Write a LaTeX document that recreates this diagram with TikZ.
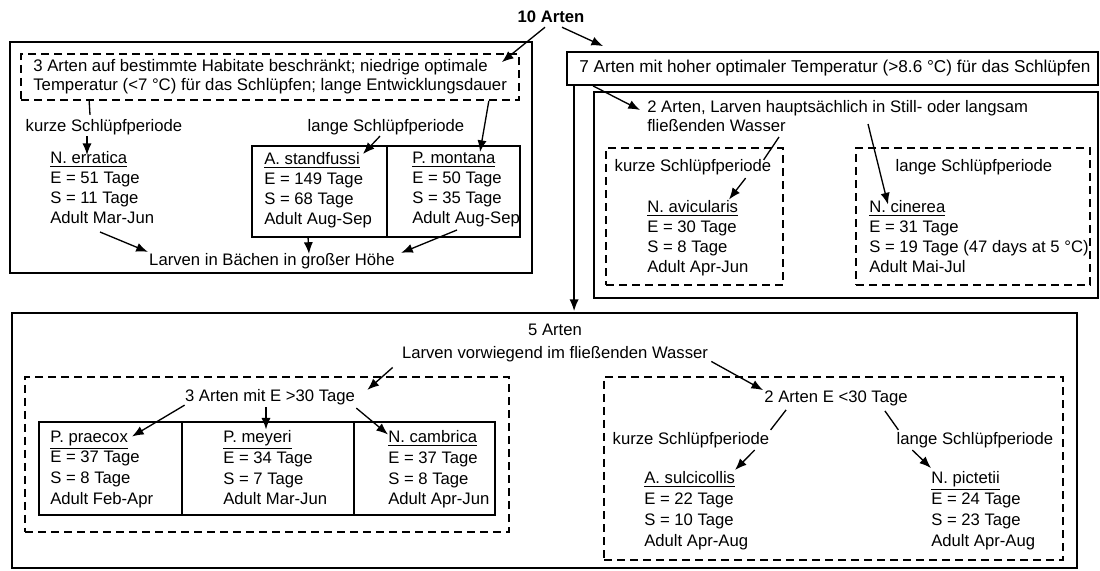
\documentclass[tikz,border=0pt]{standalone}
\usepackage{fontspec}
\setmainfont{Liberation Sans}
\usetikzlibrary{%
  positioning
 ,arrows.meta
 ,calc
 ,fit
}
\tikzstyle{box}=[draw,line width=1.1pt,inner sep=0pt]
\tikzstyle{dbox}=[draw,line width=1pt,dash pattern=on 4.8pt off 3pt,inner sep=0pt]
\tikzstyle{frame}=[line width=1.1pt]
\tikzstyle{lbl}=[inner sep=0pt]
\tikzstyle{spec}=[inner sep=0pt,align=left,anchor=north west]
\tikzstyle{arr}=[-{Latex[length=7pt,width=5.5pt]},line width=0.8pt]
\tikzstyle{ln}=[line width=0.8pt]

\begin{document}
\begin{tikzpicture}[x=0.6pt,y=-0.6pt,font=\fontsize{10}{12}\selectfont]
  \useasboundingbox (0,0) rectangle (1100,570);
  \node[lbl,font=\bfseries] (ten) at (551,17) {10 Arten};
% upper left: cold species
  \node[box,fit={(10,42) (532,273)}] (ulBox) {};
  \node[dbox,fit={(21,54) (519,100)}] (habBox) {};
  \node[spec,font=\fontsize{10.05}{11.2}\selectfont] (hab) at (33,59.5)
    {3 Arten auf bestimmte Habitate beschränkt; niedrige optimale\\
     Temperatur (<7 °C) für das Schlüpfen; lange Entwicklungsdauer};
  \node[lbl] (kurzeA) at (104,127) {kurze Schlüpfperiode};
  \node[lbl] (langeA) at (386,127) {lange Schlüpfperiode};
  \node[box,fit={(252,146) (520,237)}] (twoBox) {};
  \draw[frame] (387,146) -- (387,237);
  \node[spec] (erratica) at (50,151)
    {\underline{N. erratica}\\E = 51 Tage\\S = 11 Tage\\Adult Mar-Jun};
  \node[spec] (standfussi) at (264,152)
    {\underline{A. standfussi}\\E = 149 Tage\\S = 68 Tage\\Adult Aug-Sep};
  \node[spec] (montana) at (412,152)
    {\underline{P. montana}\\E = 50 Tage\\S = 35 Tage\\Adult Aug-Sep};
  \node[lbl] (baechen) at (272,261) {Larven in Bächen in großer Höhe};
% upper right: warm species
  \node[box,fit={(567,52) (1098,85)}] (sevenBox) {};
  \node[lbl,anchor=west,font=\fontsize{10.3}{12}\selectfont] (seven) at (579,68)
    {7 Arten mit hoher optimaler Temperatur (>8.6 °C) für das Schlüpfen};
  \node[box,fit={(594,92) (1098,298)}] (stillBox) {};
  \node[spec,font=\fontsize{10}{11.4}\selectfont] (zwei) at (647,100)
    {2 Arten, Larven hauptsächlich in Still- oder langsam\\fließenden Wasser};
  \node[dbox,fit={(606,148) (783,285)}] (kurzeBBox) {};
  \node[dbox,fit={(856,148) (1090,285)}] (langeBBox) {};
  \node[lbl] (kurzeB) at (693,167) {kurze Schlüpfperiode};
  \node[lbl] (langeB) at (974,167) {lange Schlüpfperiode};
  \node[spec] (avicularis) at (647,200.5)
    {\underline{N. avicularis}\\E = 30 Tage\\S = 8 Tage\\Adult Apr-Jun};
  \node[spec] (cinerea) at (869,200.5)
    {\underline{N. cinerea}\\E = 31 Tage\\S = 19 Tage (47 days at 5 °C)\\Adult Mai-Jul};
% bottom: running water
  \node[box,fit={(12,313) (1077,568)}] (botBox) {};
  \node[lbl,align=center,font=\fontsize{10}{14}\selectfont] (fuenf) at (555,343)
    {5 Arten\\Larven vorwiegend im fließenden Wasser};
  \node[dbox,fit={(25,377) (509,532)}] (langBox) {};
  \node[lbl] (dreiE) at (270,397) {3 Arten mit E >30 Tage};
  \node[box,fit={(39,422) (495,515)}] (cellBox) {};
  \draw[frame] (182,422) -- (182,515);
  \draw[frame] (354,422) -- (354,515);
  \node[spec,font=\fontsize{10}{12.4}\selectfont] (praecox) at (50,430.5)
    {\underline{P. praecox}\\E = 37 Tage\\S = 8 Tage\\Adult Feb-Apr};
  \node[spec,font=\fontsize{10}{12.4}\selectfont] (meyeri) at (223,430.5)
    {\underline{P. meyeri}\\E = 34 Tage\\S = 7 Tage\\Adult Mar-Jun};
  \node[spec,font=\fontsize{10}{12.4}\selectfont] (cambrica) at (388,430.5)
    {\underline{N. cambrica}\\E = 37 Tage\\S = 8 Tage\\Adult Apr-Jun};
  \node[dbox,fit={(604,377) (1063,560)}] (kurzBox) {};
  \node[lbl] (zweiE) at (836,398) {2 Arten E <30 Tage};
  \node[lbl] (kurzeC) at (691,440) {kurze Schlüpfperiode};
  \node[lbl] (langeC) at (975,440) {lange Schlüpfperiode};
  \node[spec,font=\fontsize{10}{12.6}\selectfont] (sulcicollis) at (644,471)
    {\underline{A. sulcicollis}\\E = 22 Tage\\S = 10 Tage\\Adult Apr-Aug};
  \node[spec,font=\fontsize{10}{12.6}\selectfont] (pictetii) at (931,471)
    {\underline{N. pictetii}\\E = 24 Tage\\S = 23 Tage\\Adult Apr-Aug};
% connectors
  \draw[arr] ($(ten.south)+(-6,4)$) -- ($(habBox.north east)+(-18,9)$);
  \draw[arr] ($(ten.south)+(11,4)$) -- ($(sevenBox.north west)+(37,-5)$);
  \draw[ln] ($(habBox.south west)+(69,0)$) -- ($(kurzeA.north)+(-14,-4)$);
  \draw[arr] ($(kurzeA.south)+(-17,1)$) -- ($(erratica.north west)+(37,4)$);
  \draw[arr] ($(langeA.south)+(-6,1)$) -- ($(standfussi.north west)+(99,2)$);
  \draw[arr] ($(habBox.south east)+(-31,0)$) -- ($(montana.north west)+(68,0)$);
  \draw[arr] ($(erratica.north west)+(50,81)$) -- ($(baechen.north west)+(-1,-1)$);
  \draw[arr] ($(twoBox.south west)+(57,0)$) -- ($(baechen.north)+(37,1)$);
  \draw[arr] ($(montana.north west)+(45,78)$) -- ($(baechen.north east)+(6,0)$);
  \draw[arr] ($(sevenBox.south west)+(27,0)$) -- ($(zwei.north west)+(-7,10)$);
  \draw[arr] ($(sevenBox.south west)+(8,0)$) -- ($(botBox.north west)+(563,-1)$);
  \draw[ln] ($(zwei.north west)+(132,37)$) -- ($(kurzeB.north east)+(-8,1)$);
  \draw[arr] ($(kurzeB.south east)+(-26,3)$) -- ($(avicularis.north west)+(82,-1)$);
  \draw[arr] ($(zwei.north west)+(221,24)$) -- ($(cinerea.north west)+(19,4)$);
  \draw[arr] ($(fuenf.south west)+(-9,5)$) -- ($(dreiE.north east)+(12,1)$);
  \draw[arr] ($(dreiE.south west)+(0,0)$) -- ($(praecox.north west)+(82,6)$);
  \draw[arr] ($(dreiE.south)+(-4,2)$) -- ($(meyeri.north west)+(43,-1)$);
  \draw[arr] ($(dreiE.south east)+(1,3)$) -- ($(cambrica.north west)+(0,4)$);
  \draw[arr] ($(fuenf.south east)+(3,-1)$) -- ($(zweiE.north west)+(-1,0)$);
  \draw[ln] ($(zweiE.south west)+(22,4)$) -- ($(kurzeC.north east)+(1,-2)$);
  \draw[ln] ($(zweiE.south east)+(-23,5)$) -- ($(langeC.north west)+(2,-2)$);
  \draw[arr] ($(kurzeC.south east)+(-15,2)$) -- ($(sulcicollis.north west)+(91,-1)$);
  \draw[arr] ($(langeC.south west)+(16,2)$) -- ($(pictetii.north west)+(0,-3)$);
\end{tikzpicture}
\end{document}
